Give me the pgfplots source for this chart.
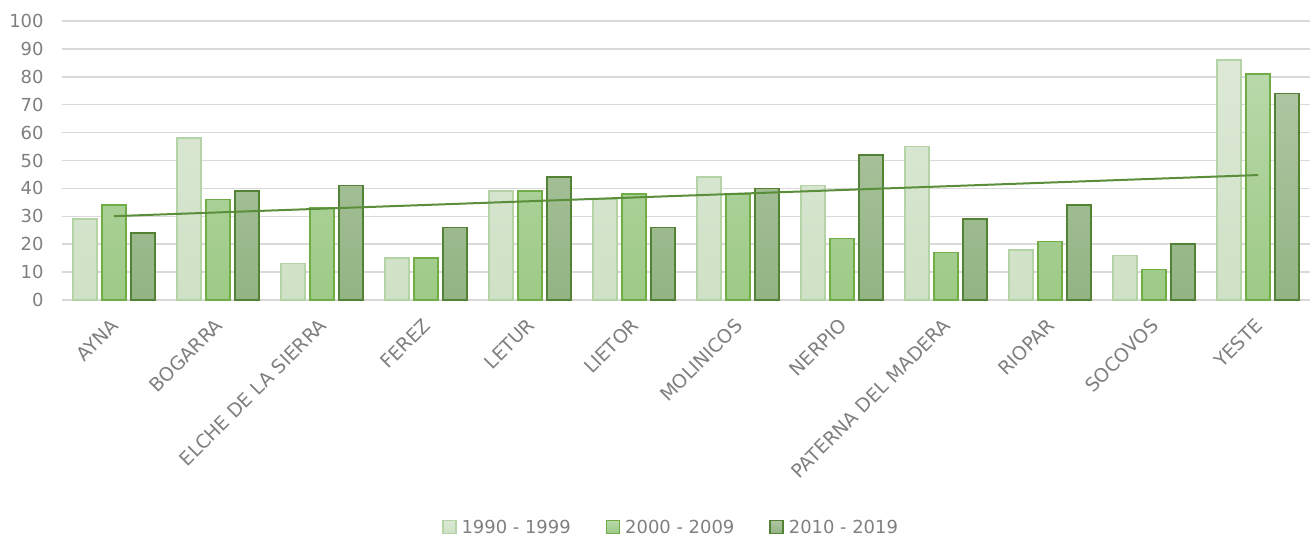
\documentclass[border=0pt]{standalone}
\usepackage{pgfplots}
\usepackage{pgfplotstable}
\pgfplotsset{compat=1.18}
\usepackage{fontspec}
\setmainfont{DejaVu Sans}

\definecolor{txtgray}{HTML}{7F7F7F}
\definecolor{gridgray}{HTML}{D9D9D9}
\definecolor{aTop}{HTML}{DDE9D6}
\definecolor{aBot}{HTML}{CFE1C6}
\definecolor{aEdge}{HTML}{B4D3A6}
\definecolor{bTop}{HTML}{B8D8A9}
\definecolor{bBot}{HTML}{9DCA86}
\definecolor{bEdge}{HTML}{70AD47}
\definecolor{cTop}{HTML}{AFC5A2}
\definecolor{cBot}{HTML}{92B483}
\definecolor{cEdge}{HTML}{548235}
\definecolor{trend}{HTML}{5A8E3A}

% municipality, 1990-1999, 2000-2009, 2010-2019
\pgfplotstableread{
x  s1  s2  s3
0  29  34  24
1  58  36  39
2  13  33  41
3  15  15  26
4  39  39  44
5  36  38  26
6  44  38  40
7  41  22  52
8  55  17  29
9  18  21  34
10 16  11  20
11 86  81  74
}\datatable

\pgfplotsset{
  legsq/.style={legend image code/.code={
      \draw[##1, line width=1.5bp] (0bp,-6bp) rectangle (13bp,7bp);}},
}

\begin{document}
\begin{tikzpicture}
\begin{axis}[
    name=ax,
    width=1248bp, height=279bp, scale only axis,
    xmin=-0.5, xmax=11.5,
    ymin=0, ymax=100,
    ytick={0,10,...,100},
    xtick={0,...,11},
    xticklabels={AYNA, BOGARRA, ELCHE DE LA SIERRA, FEREZ, LETUR, LIETOR,
                 MOLINICOS, NERPIO, PATERNA DEL MADERA, RIOPAR, SOCOVOS, YESTE},
    /pgf/number format/assume math mode=true,
    axis line style={draw=none},
    tick style={draw=none},
    ymajorgrids,
    major grid style={gridgray, line width=1.5bp},
    tick label style={font=\fontsize{18}{21}\selectfont, text=txtgray},
    yticklabel style={xshift=-15bp},
    xticklabel style={font=\fontsize{19}{22}\selectfont,
                      xshift=-4bp, yshift=-14bp, rotate=45,
                      anchor=north east, inner sep=2bp},
    legend style={at={(0.488,-0.815)}, anchor=center, legend columns=3,
                  draw=none, fill=none, font=\fontsize{18}{21}\selectfont,
                  text=txtgray,
                  /tikz/every odd column/.append style={column sep=3bp},
                  /tikz/every even column/.append style={column sep=33bp}},
    legend cell align=left,
]
\addplot[ybar, bar width=0.23, bar shift=-0.28, draw=aEdge, line width=1.5bp,
         top color=aTop, bottom color=aBot, legsq]
    table[x=x, y=s1] {\datatable};
\addplot[ybar, bar width=0.23, bar shift=0, draw=bEdge, line width=1.5bp,
         top color=bTop, bottom color=bBot, legsq]
    table[x=x, y=s2] {\datatable};
\addplot[ybar, bar width=0.23, bar shift=0.28, draw=cEdge, line width=1.5bp,
         top color=cTop, bottom color=cBot, legsq]
    table[x=x, y=s3] {\datatable};
% linear trend of the 2010-2019 series
\addplot[no marks, trend, line width=2bp, forget plot]
    table[x=x, y={create col/linear regression={y=s3}}] {\datatable};
\legend{1990 - 1999, 2000 - 2009, 2010 - 2019}
\end{axis}
% page margins as in the reference
\path (ax.north east) ++(5bp,21bp);
\path (ax.south west) ++(-62bp,-238bp);
\end{tikzpicture}
\end{document}
